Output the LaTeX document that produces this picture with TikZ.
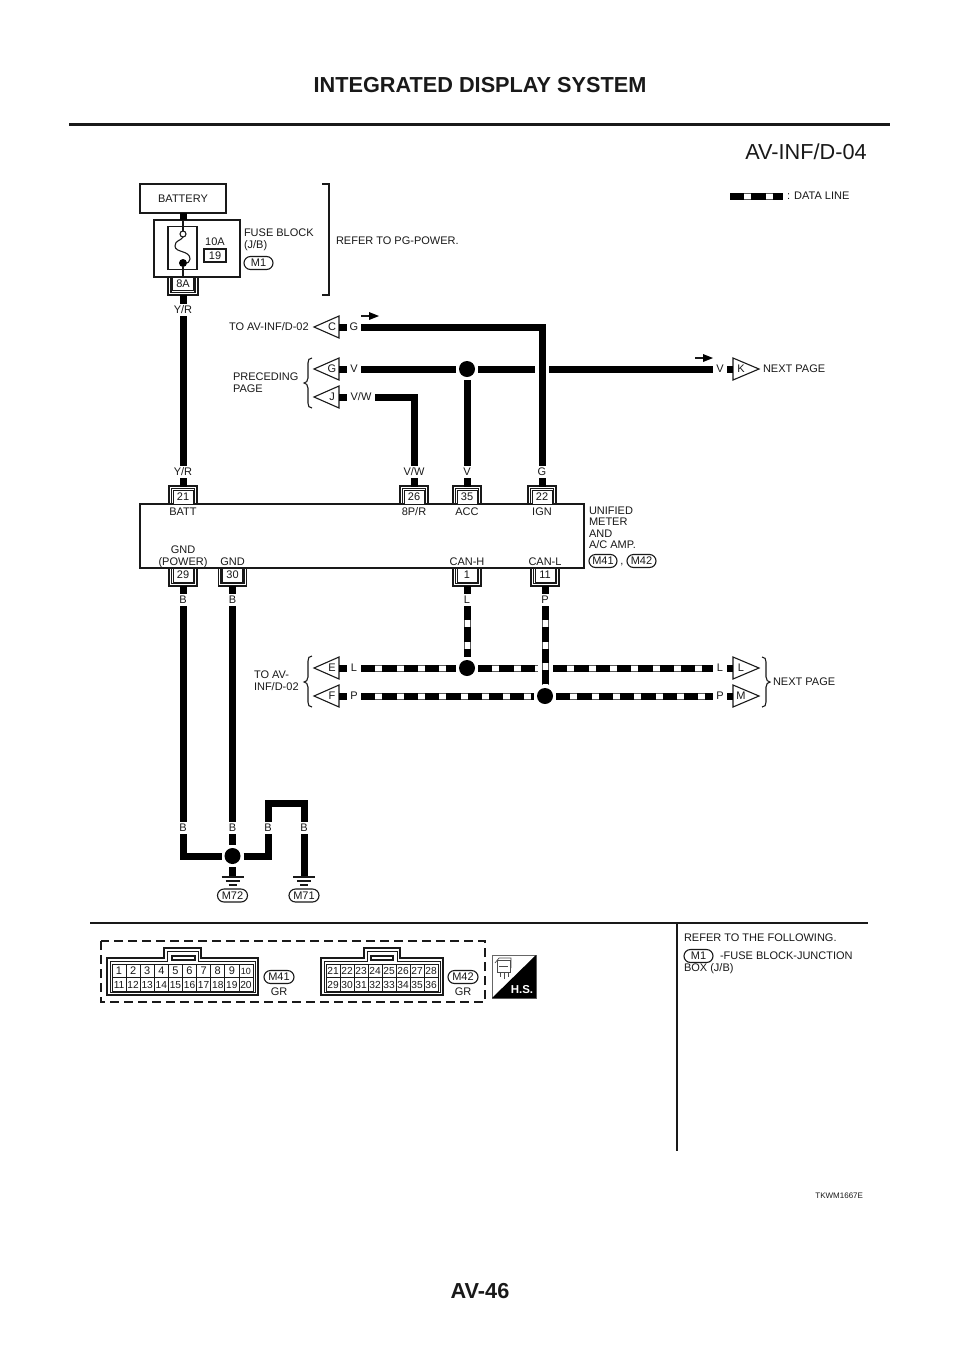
\documentclass[tikz,border=0pt]{standalone}
\usepackage{fontspec}
\setmainfont{Liberation Sans}
\newcommand{\fs}[1]{\fontsize{#1}{#1}\selectfont}
\definecolor{ink}{gray}{0.1}
\tikzset{
  every node/.style={text=ink,inner sep=0pt,outer sep=0pt},
  txt/.style={font=\fs{11},align=left,anchor=west},
  ctxt/.style={font=\fs{11},align=center},
  wlabel/.style={font=\fs{11},minimum width=14pt,minimum height=12pt},
  wire/.style={line width=7pt,black},
  datawire/.style={line width=7pt,black!65,
    postaction={draw=white,line width=5pt},
    postaction={draw=black,line width=7pt,dash pattern=on 14.3pt off 7pt}},
  thinl/.style={line width=1.1pt,ink},
  pinbox/.style={draw=ink,line width=1pt,fill=white,minimum width=20pt,minimum height=14pt,font=\fs{11}},
  dot/.style={circle,fill=black,minimum size=16pt,outer sep=3pt},
  pill/.style={draw=ink,line width=1.1pt,rounded corners=6.5pt,minimum height=13pt,minimum width=30pt,font=\fs{11}},
  cell/.style={draw=ink,line width=0.8pt,minimum width=14.1pt,minimum height=13.5pt,font=\fs{10.2},text height=7.2pt,text depth=0pt},
  flagtxt/.style={font=\fs{11}},
}
% top pin: id, x, number, function text, wire label
\newcommand{\pinTop}[5]{
  \node[pinbox] (pin#1) at (#2,497) {#3};
  \draw[thinl] (#2-14,504)--(#2-14,486)--(#2+14,486)--(#2+14,504);
  \draw[thinl] (#2-11.5,504)--(#2-11.5,488.5)--(#2+11.5,488.5)--(#2+11.5,504);
  \node[ctxt] (fn#1) at (#2,512) {#4};
  \node[wlabel] (wl#1) at (#2,472) {#5};
  \coordinate (st#1) at (#2,486.5);
  \draw[wire] (wl#1.south)--(st#1);
}
\newcommand{\pinBot}[5]{
  \node[pinbox] (pin#1) at (#2,575) {#3};
  \draw[thinl] (#2-14,568)--(#2-14,586)--(#2+14,586)--(#2+14,568);
  \draw[thinl] (#2-11.5,568)--(#2-11.5,583.5)--(#2+11.5,583.5)--(#2+11.5,568);
  \node[ctxt,anchor=base] (fn#1) at (#2,565) {#4};
  \node[wlabel] (wl#1) at (#2,600) {#5};
  \coordinate (st#1) at (#2,585.5);
  \draw[wire] (st#1)--(wl#1.north);
}
% flag pointing left: id, y, letter
\newcommand{\flagL}[3]{
  \coordinate (fl#1) at (339,#2);
  \draw[thinl,fill=white,line join=miter] (314,#2)--(339,#2-11)--(339,#2+11)--cycle;
  \node[flagtxt] (ft#1) at (332,#2) {#3};
}
% flag pointing right: id, y, letter
\newcommand{\flagR}[3]{
  \coordinate (fl#1) at (733,#2);
  \draw[thinl,fill=white,line join=miter] (759,#2)--(733,#2-11)--(733,#2+11)--cycle;
  \node[flagtxt] (ft#1) at (741,#2) {#3};
}
\newcommand{\flowArrow}[2]{
  \draw[line width=1.2pt,ink] (#1,#2)--(#1+9,#2);
  \fill[black] (#1+8,#2-4)--(#1+18,#2)--(#1+8,#2+4)--cycle;
}
\newcommand{\gnd}[2]{
  \draw[line width=1.3pt,ink] (#1-11,#2)--(#1+11,#2) (#1-7,#2+4)--(#1+7,#2+4) (#1-4,#2+8)--(#1+4,#2+8);
}
\begin{document}
\begin{tikzpicture}[x=1pt,y=-1pt]
\useasboundingbox (0,0) rectangle (960,1358);
\fill[white] (0,0) rectangle (960,1358);
% header and footer
\node[font=\fs{21.7}\bfseries] (title) at (480,85) {INTEGRATED DISPLAY SYSTEM};
\draw[line width=3pt,ink] (69,124.5)--(890,124.5);
\node[font=\fs{21.7}] (diag) at (806,152) {AV-INF/D-04};
\node[font=\fs{21.7}\bfseries] (page) at (480,1291) {AV-46};
\node[font=\fs{8},anchor=east] (code) at (863,1196) {TKWM1667E};
% legend
\coordinate (lega) at (730,196);
\coordinate (legb) at (783,196);
\draw[datawire] (lega)--(legb);
\node[txt] (legt) at (787,196) {: DATA LINE};
% battery and fuse block
\node[draw=ink,line width=1.2pt,minimum width=86pt,minimum height=29pt,font=\fs{11}] (batt) at (183,198.5) {BATTERY};
\node[draw=ink,line width=1.2pt,minimum width=86pt,minimum height=57pt] (fuse) at (197,248.5) {};
\draw[wire] (batt.south)--(fuse.north -| batt.south);
\node[draw=ink,line width=1.2pt,minimum width=29pt,minimum height=43pt] (fusein) at (182.5,248) {};
\node[circle,draw=ink,line width=1.1pt,fill=white,minimum size=6pt] (fo) at (183,234) {};
\node[circle,fill=black,minimum size=8pt] (fc) at (183,263) {};
\coordinate (ft) at (183,220);
\coordinate (fb) at (183,277);
\draw[thinl] (ft)--(fo.north);
\draw[thinl] (fc)--(fb);
\draw[thinl] (fo.south) .. controls (181,241) and (175,240) .. (175,246) .. controls (175,253) and (190,250) .. (190,259) .. controls (190,262) and (187,263) .. (fc.east);
\node[ctxt] (amp) at (215,242) {10A};
\node[draw=ink,line width=1.1pt,minimum width=22pt,minimum height=13pt,font=\fs{11}] (f19) at (215,255.5) {19};
\node[txt] (fbt) at (244,240) {FUSE BLOCK\\[1pt](J/B)};
\node[pill,minimum width=29pt] (m1a) at (258.5,263) {M1};
\node[pinbox,minimum width=21pt,minimum height=13pt] (p8a) at (183,284) {8A};
\draw[thinl] (168,277)--(168,295)--(198,295)--(198,277);
\draw[thinl] (171,277)--(171,292.5)--(195,292.5)--(195,277);
\coordinate (s8a) at (183,294.5);
\node[wlabel] (yr1) at (183,310) {Y/R};
\draw[wire] (s8a)--(yr1.north);
\draw[thinl] (322,184)--(329,184)--(329,295)--(322,295);
\node[txt] (ref1) at (336,241) {REFER TO PG-POWER.};
% main unit
\node[draw=ink,line width=1.3pt,minimum width=444pt,minimum height=64pt] (unit) at (362,536) {};
\pinTop{a}{183}{21}{BATT}{Y/R}
\pinTop{b}{414}{26}{8P/R}{V/W}
\pinTop{c}{467}{35}{ACC}{V}
\pinTop{d}{542}{22}{IGN}{G}
\pinBot{e}{183}{29}{GND\\[1pt](POWER)}{B}
\pinBot{f}{232.5}{30}{GND}{B}
\pinBot{g}{467}{1}{CAN-H}{L}
\pinBot{h}{545}{11}{CAN-L}{P}
\node[txt,anchor=north west,align=left] (unitt) at (589,506.5) {UNIFIED\\[0.6pt]METER\\[0.6pt]AND\\[0.6pt]A/C AMP.};
\node[pill,minimum width=28pt] (m41a) at (603,561) {M41};
\node[ctxt,anchor=base] (comma) at (622,564) {,};
\node[pill,minimum width=29pt] (m42a) at (641.5,561) {M42};
% power wires
\draw[wire] (yr1.south)--(wla.north);
\node[txt] (toc) at (229,327) {TO AV-INF/D-02};
\flagL{c}{327}{C}
\node[wlabel] (lg) at (354,327) {G};
\draw[wire] (flc)--(lg.west);
\draw[wire,line cap=butt] (lg.east)--(542,327)--(wld.north);
\flowArrow{361}{316}
\flagL{g}{369}{G}
\node[wlabel] (lv) at (354,369) {V};
\draw[wire] (flg)--(lv.west);
\node[dot] (dv) at (467,369) {};
\draw[wire] (lv.east)--(dv.west);
\draw[wire] (dv.south)--(wlc.north);
\coordinate (vgapa) at (535,369);
\coordinate (vgapb) at (549,369);
\draw[wire] (dv.east)--(vgapa);
\node[wlabel] (lvk) at (720,369) {V};
\draw[wire] (vgapb)--(lvk.west);
\flowArrow{695}{358}
\flagR{k}{369}{K}
\draw[wire] (lvk.east)--(flk);
\node[txt] (nxt1) at (763,369) {NEXT PAGE};
\flagL{j}{397}{J}
\node[wlabel,minimum width=28pt] (lvw) at (361,397) {V/W};
\draw[wire] (flj)--(lvw.west);
\draw[wire] (lvw.east)--(414,397)--(wlb.north);
\node[txt] (prec) at (233,382.5) {PRECEDING\\[0.6pt]PAGE};
\draw[thinl] (312,358) .. controls (309,358) and (308,360) .. (308,363) -- (308,378) .. controls (308,381) and (306,383) .. (304,383) .. controls (306,383) and (308,385) .. (308,388) -- (308,403) .. controls (308,406) and (309,408) .. (312,408);
% CAN lines
\node[dot] (dl) at (467,668) {};
\node[dot] (dp) at (545,696) {};
\flagL{e}{668}{E}
\flagL{f}{696}{F}
\node[wlabel] (le) at (354,668) {L};
\node[wlabel] (lf) at (354,696) {P};
\draw[wire] (fle)--(le.west);
\draw[wire] (flf)--(lf.west);
\flagR{l}{668}{L}
\flagR{m}{696}{M}
\node[wlabel] (ll) at (720,668) {L};
\node[wlabel] (lm) at (720,696) {P};
\draw[wire] (ll.east)--(fll);
\draw[wire] (lm.east)--(flm);
\draw[datawire] (le.east)--(dl.west);
\coordinate (lgapa) at (538,668);
\coordinate (lgapb) at (553,668);
\draw[datawire] (dl.east)--(lgapa);
\draw[datawire] (lgapb)--(ll.west);
\draw[datawire] (lf.east)--(dp.west);
\draw[datawire] (dp.east)--(lm.west);
\draw[datawire] (wlg.south)--(dl.north);
\draw[datawire] (wlh.south)--(dp.north);
\node[txt] (toav) at (254,680.5) {TO AV-\\[0.6pt]INF/D-02};
\draw[thinl] (312,656) .. controls (309,656) and (308,658) .. (308,661) -- (308,677) .. controls (308,680) and (306,682) .. (304,682) .. controls (306,682) and (308,684) .. (308,687) -- (308,702) .. controls (308,705) and (309,707) .. (312,707);
\draw[thinl] (762,657) .. controls (765,657) and (766,659) .. (766,662) -- (766,677) .. controls (766,680) and (768,682) .. (770,682) .. controls (768,682) and (766,684) .. (766,687) -- (766,702) .. controls (766,705) and (765,707) .. (762,707);
\node[txt] (nxt2) at (773,682) {NEXT PAGE};
% ground wires
\node[wlabel] (b1) at (183,828) {B};
\node[wlabel] (b2) at (232.5,828) {B};
\node[wlabel] (b3) at (268,828) {B};
\node[wlabel] (b4) at (304,828) {B};
\draw[wire] (wle.south)--(b1.north);
\draw[wire] (wlf.south)--(b2.north);
\node[dot] (dg) at (232.5,856) {};
\draw[wire] (b1.south)--(183,856)--(dg.west);
\draw[wire] (b2.south)--(dg.north);
\draw[wire] (dg.east)--(268,856)--(b3.south);
\draw[wire] (b3.north)--(268,803)--(304,803)--(b4.north);
\coordinate (g1) at (232.5,877);
\coordinate (g2) at (304,877);
\draw[wire] (dg.south)--(g1);
\draw[wire] (b4.south)--(g2);
\gnd{232.5}{877}
\gnd{304}{877}
\node[pill] (m72) at (232.5,895.5) {M72};
\node[pill] (m71) at (304,895.5) {M71};
% lower panel
\draw[line width=2pt,ink] (90,922.5)--(868,922.5);
\draw[line width=2pt,ink] (677,922.5)--(677,1151);
\node[txt] (rf) at (684,938) {REFER TO THE FOLLOWING.};
\node[pill,minimum width=29pt] (m1b) at (698.5,956) {M1};
\node[txt] (rf2) at (720,956) {-FUSE BLOCK-JUNCTION};
\node[txt] (rf3) at (684,969) {BOX (J/B)};
\draw[line width=1.5pt,ink,dash pattern=on 9pt off 5pt] (101,941) rectangle (485,1002);
% connector M41
\draw[thinl] (107,958)--(164,958)--(164,948)--(201,948)--(201,958)--(258,958)--(258,995)--(107,995)--cycle;
\draw[line width=0.9pt,ink] (110,961)--(167,961)--(167,951)--(198,951)--(198,961)--(255,961)--(255,992)--(110,992)--cycle;
\draw[thinl] (172,956) rectangle (195,960);
\foreach \i in {1,...,10}{
  \pgfmathsetmacro{\cx}{112+14.1*(\i-0.5)}
  \pgfmathtruncatemacro{\j}{\i+10}
  \ifnum\i<10
    \node[cell,font=\fs{11}] (u\i) at (\cx,971) {\i};
  \else
    \node[cell,font=\fs{9}] (u\i) at (\cx,971) {\i};
  \fi
  \node[cell] (v\i) at (\cx,984.5) {\j};
}
\node[pill] (m41b) at (279,977) {M41};
\node[ctxt] (gr1) at (279,992) {GR};
% connector M42
\draw[thinl] (321,958)--(364,958)--(364,948)--(400,948)--(400,958)--(443,958)--(443,995)--(321,995)--cycle;
\draw[line width=0.9pt,ink] (324,961)--(367,961)--(367,951)--(397,951)--(397,961)--(440,961)--(440,992)--(324,992)--cycle;
\draw[thinl] (371,956) rectangle (393,960);
\foreach \i in {1,...,8}{
  \pgfmathsetmacro{\cx}{326+14*(\i-0.5)}
  \pgfmathtruncatemacro{\j}{\i+20}
  \pgfmathtruncatemacro{\k}{\i+28}
  \node[cell,minimum width=14pt] (w\i) at (\cx,971) {\j};
  \node[cell,minimum width=14pt] (z\i) at (\cx,984.5) {\k};
}
\node[pill] (m42b) at (463,977) {M42};
\node[ctxt] (gr2) at (463,992) {GR};
% H.S. icon
\draw[line width=0.8pt,black!60] (492,955) rectangle (536,998);
\fill[black] (536,955)--(536,998)--(492,998)--cycle;
\node[font=\fs{11.5}\bfseries,text=white] (hs) at (522,990) {H.S.};
\draw[line width=0.7pt,black!70] (497,960) rectangle (510,972);
\draw[line width=0.7pt,black!70] (495,963)--(499,958)--(511,958)--(511,968);
\draw[line width=0.7pt,black!70] (499,966)--(508,966) (500,972)--(500,977) (504,972)--(504,979) (508,972)--(508,977);
\end{tikzpicture}
\end{document}
